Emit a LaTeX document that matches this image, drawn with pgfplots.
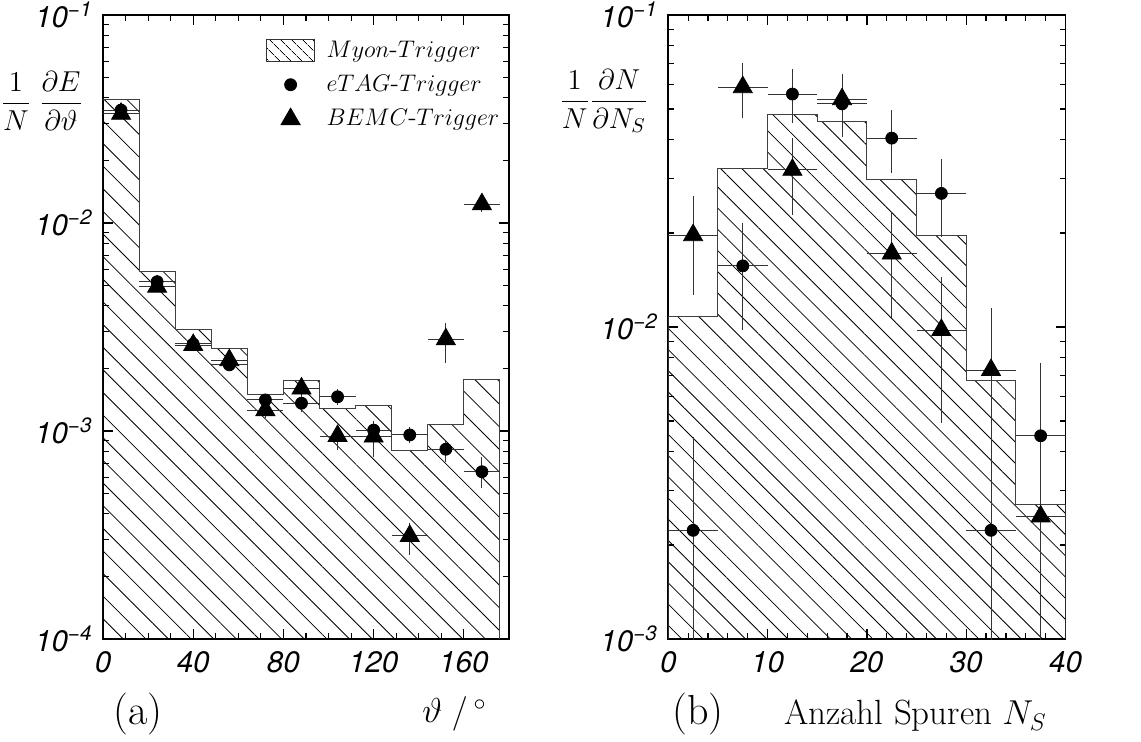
\documentclass[border=0pt]{standalone}
\usepackage{fontspec}
\usepackage{pgfplots}
\usepackage{pgfplotstable}
\pgfplotsset{compat=1.18}
\usetikzlibrary{patterns.meta}
\newfontfamily\heros{TeX Gyre Heros}
\newcommand{\tickfont}{\heros\itshape\fontsize{14.8}{16}\selectfont}
\newcommand{\labfont}{\fontsize{14.5}{17}\selectfont}
\newcommand{\legfont}{\fontsize{12.8}{15}\selectfont}

% left panel: theta, bin centres, value, lower and upper end of error bar
\pgfplotstableread{
x y lo hi
8 0.0349 0.0325 0.0375
24 0.00522 0.0049 0.0056
40 0.00262 0.0025 0.00275
56 0.00208 0.00198 0.00218
72 0.00141 0.00131 0.00151
88 0.00136 0.00124 0.00148
104 0.00146 0.00134 0.00159
120 0.00101 0.00093 0.00110
136 0.000957 0.00088 0.00104
152 0.000817 0.000712 0.000906
168 0.000637 0.00053 0.00075
}\etagL
\pgfplotstableread{
x y lo hi
8 0.0335 0.0318 0.0352
24 0.00494 0.0047 0.0052
40 0.00259 0.00243 0.00275
56 0.00219 0.00205 0.00233
72 0.00126 0.00115 0.00138
88 0.0016 0.00148 0.00173
104 0.000946 0.000811 0.00105
120 0.00094 0.000752 0.00112
136 0.000313 0.000254 0.000361
152 0.00276 0.00212 0.00332
168 0.0123 0.0113 0.0133
}\bemcL
% right panel: number of tracks
\pgfplotstableread{
x y lo hi
2.5 0.00223 0.0001 0.00443
7.5 0.0157 0.00978 0.0215
12.5 0.0558 0.045 0.067
17.5 0.0519 0.0407 0.0647
22.5 0.0403 0.0311 0.0496
27.5 0.0268 0.0195 0.0345
32.5 0.00223 0.0001 0.0045
37.5 0.00448 0.0001 0.00765
}\etagR
\pgfplotstableread{
x y lo hi
2.5 0.0197 0.0127 0.0262
7.5 0.0587 0.0466 0.070
12.5 0.0319 0.0229 0.0402
17.5 0.0537 0.0407 0.0647
22.5 0.0172 0.0107 0.0234
27.5 0.00978 0.00492 0.0145
32.5 0.00728 0.0001 0.0115
37.5 0.00247 0.0001 0.0045
}\bemcR

\begin{document}
\begin{tikzpicture}
\path[use as bounding box] (0pt,0pt) rectangle (570.5pt,371pt);

\begin{axis}[
  scale only axis, height=312pt, ymode=log,
  tick align=inside,
  major tick length=5pt, minor tick length=3pt,
  axis line style={line width=0.9pt},
  tick style={line width=0.6pt, black},
  xticklabel style={font=\tickfont, inner sep=0pt, yshift=-6pt},
  yticklabel style={font=\tickfont, inner sep=0pt, xshift=-5pt},
  ylabel style={rotate=-90, at={(rel axis cs:0,0.862)}, anchor=east, xshift=-6.5pt, font=\labfont},
  at={(51.5pt,51.5pt)}, anchor=south west, width=203pt,
  xmin=0, xmax=180, ymin=1e-4, ymax=1e-1,
  xtick={0,40,80,120,160}, minor x tick num=3,
  xticklabels={0,40,80,120,160},
  ytick={1e-4,1e-3,1e-2,1e-1},
  yticklabels={10\textsuperscript{−4},10\textsuperscript{−3},10\textsuperscript{−2},10\textsuperscript{−1}},
  minor ytick={2e-4,3e-4,4e-4,5e-4,6e-4,7e-4,8e-4,9e-4,2e-3,3e-3,4e-3,5e-3,6e-3,7e-3,8e-3,9e-3,2e-2,3e-2,4e-2,5e-2,6e-2,7e-2,8e-2,9e-2},
  ylabel={$\displaystyle\frac{1}{N}\hspace{4pt}\frac{\partial E}{\partial\vartheta}$},
  legend style={at={(0.401,0.966)}, anchor=north west, draw=none, fill=none,
    font=\legfont, inner sep=0pt, row sep=3.5pt},
  legend cell align=left,
]
\addplot[const plot, draw=black!75, line width=0.5pt, forget plot,
    pattern={Lines[angle=-45,distance=8pt,line width=0.4pt]}, pattern color=black]
  coordinates {(0,1e-4) (0,0.0394) (16,0.00586) (32,0.00308) (48,0.00250) (64,0.00149) (80,0.00174) (96,0.00128) (112,0.00132) (128,0.000804) (144,0.00108) (160,0.00176) (176,0.00176) (176,1e-4)};
\addplot[only marks, black, forget plot, mark=*, mark size=3pt,
    error bars/x dir=both, error bars/x fixed=8, error bars/y dir=both, error bars/y explicit,
    error bars/error bar style={line width=0.5pt, black!80}, error bars/error mark=none]
  table[x=x, y=y, y error plus expr=\thisrow{hi}-\thisrow{y}, y error minus expr=\thisrow{y}-\thisrow{lo}] {\etagL};
\addplot[only marks, black, forget plot, mark=triangle*, mark size=5.5pt,
    error bars/x dir=both, error bars/x fixed=8, error bars/y dir=both, error bars/y explicit,
    error bars/error bar style={line width=0.5pt, black!80}, error bars/error mark=none]
  table[x=x, y=y, y error plus expr=\thisrow{hi}-\thisrow{y}, y error minus expr=\thisrow{y}-\thisrow{lo}] {\bemcL};
\addlegendimage{legend image code/.code={\draw[black!80, line width=0.5pt, pattern={Lines[angle=-45,distance=4pt,line width=0.4pt]}] (0pt,-5.5pt) rectangle (24pt,5.5pt); \path[draw=none, fill=none] (24pt,0pt) rectangle (28pt,0pt);}}
\addlegendentry{$Myon$-$Trigger$}
\addlegendimage{only marks, mark=*, mark size=3pt, black, legend image code/.code={\draw[mark repeat=2, mark phase=2] plot coordinates {(0pt,0pt) (12pt,0pt) (24pt,0pt)}; \path[draw=none, fill=none] (0pt,-5.5pt) rectangle (28pt,5.5pt);}}
\addlegendentry{$eTAG$-$Trigger$}
\addlegendimage{only marks, mark=triangle*, mark size=5.5pt, black, legend image code/.code={\draw[mark repeat=2, mark phase=2] plot coordinates {(0pt,0pt) (12pt,0pt) (24pt,0pt)}; \path[draw=none, fill=none] (0pt,-5.5pt) rectangle (28pt,5.5pt);}}
\addlegendentry{$BEMC$-$Trigger$}
\end{axis}

\begin{axis}[
  scale only axis, height=312pt, ymode=log,
  tick align=inside,
  major tick length=5pt, minor tick length=3pt,
  axis line style={line width=0.9pt},
  tick style={line width=0.6pt, black},
  xticklabel style={font=\tickfont, inner sep=0pt, yshift=-6pt},
  yticklabel style={font=\tickfont, inner sep=0pt, xshift=-5pt},
  ylabel style={rotate=-90, at={(rel axis cs:0,0.862)}, anchor=east, xshift=-6.5pt, font=\labfont},
  at={(334.15pt,51.5pt)}, anchor=south west, width=198.6pt,
  xmin=0, xmax=40, ymin=1e-3, ymax=1e-1,
  xtick={0,10,20,30,40}, minor x tick num=4,
  xticklabels={0,10,20,30,40},
  ytick={1e-3,1e-2,1e-1},
  yticklabels={10\textsuperscript{−3},10\textsuperscript{−2},10\textsuperscript{−1}},
  minor ytick={2e-3,3e-3,4e-3,5e-3,6e-3,7e-3,8e-3,9e-3,2e-2,3e-2,4e-2,5e-2,6e-2,7e-2,8e-2,9e-2},
  ylabel={$\displaystyle\frac{1}{N}\frac{\partial N}{\partial N_S}$},
]
\addplot[const plot, draw=black!75, line width=0.5pt, forget plot,
    pattern={Lines[angle=-45,distance=7.5pt,line width=0.4pt]}, pattern color=black]
  coordinates {(0,1e-3) (0,0.0108) (5,0.0323) (10,0.0481) (15,0.0457) (20,0.0296) (25,0.0196) (30,0.00676) (35,0.0027) (40,0.0027) (40,1e-3)};
\addplot[only marks, black, forget plot, mark=*, mark size=3pt,
    error bars/x dir=both, error bars/x fixed=2.5, error bars/y dir=both, error bars/y explicit,
    error bars/error bar style={line width=0.5pt, black!80}, error bars/error mark=none]
  table[x=x, y=y, y error plus expr=\thisrow{hi}-\thisrow{y}, y error minus expr=\thisrow{y}-\thisrow{lo}] {\etagR};
\addplot[only marks, black, forget plot, mark=triangle*, mark size=5.5pt,
    error bars/x dir=both, error bars/x fixed=2.5, error bars/y dir=both, error bars/y explicit,
    error bars/error bar style={line width=0.5pt, black!80}, error bars/error mark=none]
  table[x=x, y=y, y error plus expr=\thisrow{hi}-\thisrow{y}, y error minus expr=\thisrow{y}-\thisrow{lo}] {\bemcR};
\end{axis}

\node[anchor=base west, inner sep=0pt, font=\fontsize{21}{24}\selectfont] at (56.5pt,8.5pt) {(a)};
\node[anchor=base west, inner sep=0pt, font=\fontsize{17.5}{20}\selectfont] at (211pt,9.5pt) {$\vartheta\;/\,^{\circ}$};
\node[anchor=base west, inner sep=0pt, font=\fontsize{21}{24}\selectfont] at (336pt,8.5pt) {(b)};
\node[anchor=base west, inner sep=0pt, font=\fontsize{17.5}{20}\selectfont] at (392pt,8.5pt) {Anzahl Spuren $N_S$};
\end{tikzpicture}
\end{document}
